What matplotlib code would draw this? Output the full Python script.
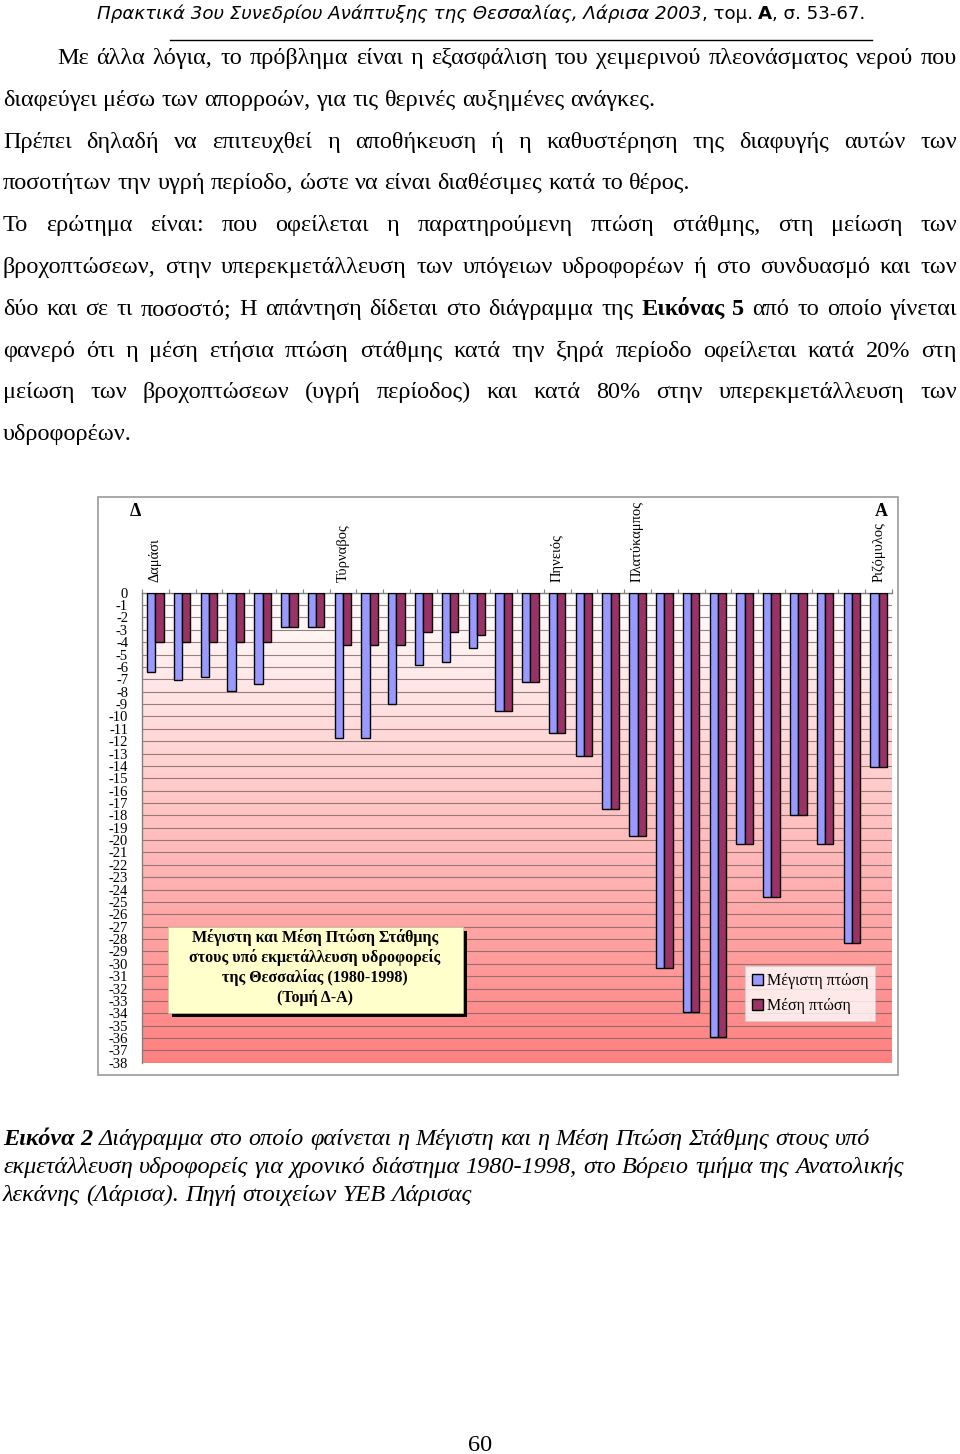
#!/usr/bin/env python3
"""
Page with the max / mean groundwater level drop chart (section D-A)
"""

import numpy as np
import matplotlib
matplotlib.use('Agg')
import matplotlib.pyplot as plt
from matplotlib.patches import Rectangle
from matplotlib.colors import LinearSegmentedColormap

W, H = 960, 1454

# --- chart data (m) ---
wells = list(range(28))
max_drop = [-6.4, -7.06, -6.84, -7.97, -7.4, -2.75, -2.75, -11.75, -11.75, -9.0,
            -5.82, -5.58, -4.45, -9.56, -7.22, -11.34, -13.2, -17.5, -19.7, -30.3,
            -33.9, -35.9, -20.3, -24.6, -18.0, -20.3, -28.3, -14.1]
mean_drop = [-4.0, -4.0, -4.0, -4.0, -4.0, -2.75, -2.75, -4.23, -4.23, -4.23,
             -3.18, -3.18, -3.45, -9.56, -7.22, -11.34, -13.2, -17.5, -19.7, -30.3,
             -33.9, -35.9, -20.3, -24.6, -18.0, -20.3, -28.3, -14.1]
place_idx = [0, 7, 15, 18, 27]
place_names = ['Δαμάσι', 'Τύρναβος', 'Πηνειός', 'Πλατύκαμπος', 'Ριζόμυλος']
y_ticks = list(range(0, -39, -1))
y_labels = ['0'] + ['-%d' % -v for v in y_ticks[1:]]
series_names = ['Μέγιστη πτώση', 'Μέση πτώση']
chart_title = ['Μέγιστη και Μέση Πτώση Στάθμης',
               'στους υπό εκμετάλλευση υδροφορείς',
               'της Θεσσαλίας (1980-1998)',
               '(Τομή Δ-Α)']

# --- page text ---
header_runs = [('Πρακτικά 3ου Συνεδρίου Ανάπτυξης της Θεσσαλίας, Λάρισα 2003', dict(style='italic')),
               (', τομ. ', {}),
               ('Α', dict(fontweight='bold')),
               (', σ. 53-67.', {})]
body_lines = [
    ('Με άλλα λόγια, το πρόβλημα είναι η εξασφάλιση του χειμερινού πλεονάσματος νερού που', True, 57),
    ('διαφεύγει μέσω των απορροών, για τις θερινές αυξημένες ανάγκες.', False, 3),
    ('Πρέπει δηλαδή να επιτευχθεί η αποθήκευση ή η καθυστέρηση της διαφυγής αυτών των', True, 3),
    ('ποσοτήτων την υγρή περίοδο, ώστε να είναι διαθέσιμες κατά το θέρος.', False, 3),
    ('Το ερώτημα είναι: που οφείλεται η παρατηρούμενη πτώση στάθμης, στη μείωση των', True, 3),
    ('βροχοπτώσεων, στην υπερεκμετάλλευση των υπόγειων υδροφορέων ή στο συνδυασμό και των', True, 3),
    ('δύο και σε τι ποσοστό; Η απάντηση δίδεται στο διάγραμμα της Εικόνας 5 από το οποίο γίνεται', True, 3),
    ('φανερό ότι η μέση ετήσια πτώση στάθμης κατά την ξηρά περίοδο οφείλεται κατά 20% στη', True, 3),
    ('μείωση των βροχοπτώσεων (υγρή περίοδος) και κατά 80% στην υπερεκμετάλλευση των', True, 3),
    ('υδροφορέων.', False, 3),
]
bold_words = ['Εικόνας', '5']
caption_lines = [
    'Εικόνα 2 Διάγραμμα στο οποίο φαίνεται η Μέγιστη και η Μέση Πτώση Στάθμης στους υπό',
    'εκμετάλλευση υδροφορείς για χρονικό διάστημα 1980-1998, στο Βόρειο τμήμα της Ανατολικής',
    'λεκάνης (Λάρισα). Πηγή στοιχείων ΥΕΒ Λάρισας',
]

SERIF = ['Liberation Serif', 'DejaVu Serif']
SANS = ['DejaVu Sans']

fig = plt.figure(figsize=(W / 100, H / 100), dpi=100)
fig.patch.set_facecolor('white')
renderer = fig.canvas.get_renderer()


def fx(x):
    return x / W


def fy(y):
    return 1 - y / H


def width_of(s, **kw):
    t = fig.text(0, 0, s, **kw)
    w = t.get_window_extent(renderer=renderer).width
    t.remove()
    return w


def space_of(**kw):
    return width_of('a a', **kw) - width_of('aa', **kw)


def put_words(words, x0, y, x1=None, **kw):
    """Place (word, style) tokens on one baseline, justified if x1 given"""
    widths = [width_of(w, **{**kw, **st}) for w, st in words]
    if x1 is None or len(words) < 2:
        gap = space_of(**kw)
    else:
        gap = (x1 - x0 - sum(widths)) / (len(words) - 1)
    x = x0
    for (w, st), wd in zip(words, widths):
        fig.text(fx(x), fy(y), w, ha='left', va='baseline', **{**kw, **st})
        x += wd + gap


# header
hsize = 12
hw = sum(width_of(t, family=SANS, size=hsize, **st) for t, st in header_runs)
hsize = hsize * 765 / hw
x = 97
for t, st in header_runs:
    fig.text(fx(x), fy(19), t, ha='left', va='baseline', family=SANS, size=hsize, **st)
    x += width_of(t, family=SANS, size=hsize, **st)
fig.add_artist(plt.Line2D([fx(170), fx(872)], [fy(40), fy(40)], color='black', lw=1))

# body paragraph
bsize = 16
bsize = bsize * 652 / width_of(body_lines[1][0], family=SERIF, size=bsize)
for n, (line, justify, x0) in enumerate(body_lines):
    words = [(w, dict(fontweight='bold') if w in bold_words and n == 6 else {})
             for w in line.split()]
    put_words(words, x0, 64 + n * 41.8, 957 if justify else None, family=SERIF, size=bsize)

# caption
csize = 16
csize = csize * 469 / width_of(caption_lines[2], family=SERIF, size=csize, style='italic')
for n, line in enumerate(caption_lines):
    words = [(w, dict(fontweight='bold') if n == 0 and i < 2 else {})
             for i, w in enumerate(line.split())]
    put_words(words, 3, 1145 + n * 28, None, family=SERIF, size=csize, style='italic')

fig.text(0.5, fy(1451), '60', ha='center', va='baseline', family=SERIF, size=bsize)

# --- chart ---
fig.add_artist(Rectangle((fx(98), fy(1075)), (898 - 98) / W, (1075 - 497) / H,
                         transform=fig.transFigure, facecolor='white',
                         edgecolor='#9a9a9a', lw=1.2, zorder=0))

ax = fig.add_axes([fx(142), fy(1062.8), 750 / W, (1062.8 - 592.7) / H])
ax.set_xlim(-0.5, len(wells) - 0.5)
ax.set_ylim(-38, 0)

bg = LinearSegmentedColormap.from_list('bg', ['#FFFFFF', '#FF8080'])
ax.imshow(np.linspace(0, 1, 256).reshape(-1, 1), extent=[-0.5, len(wells) - 0.5, -38, 0],
          aspect='auto', cmap=bg, origin='upper', zorder=0)

bw = 0.31
x = np.array(wells)
ax.bar(x - bw / 2, max_drop, bw, color='#9999FF', edgecolor='black', lw=1,
       label=series_names[0], zorder=3)
ax.bar(x + bw / 2, mean_drop, bw, color='#993366', edgecolor='black', lw=1,
       label=series_names[1], zorder=3)

ax.set_yticks(y_ticks)
ax.set_yticklabels(y_labels, family=SERIF, size=10.5)
ax.tick_params(axis='y', length=0, pad=10)
ax.yaxis.grid(True, color='#7c6464', lw=0.8, alpha=0.8)
ax.set_axisbelow(True)

ax.xaxis.tick_top()
ax.set_xticks(np.arange(-0.5, len(wells), 1))
ax.set_xticklabels([])
ax.tick_params(axis='x', length=3, direction='out', color='#808080', width=0.8)

for side in ['right', 'bottom']:
    ax.spines[side].set_visible(False)
for side in ['left', 'top']:
    ax.spines[side].set_color('#808080')
    ax.spines[side].set_linewidth(1)

for i, name in zip(place_idx, place_names):
    ax.text(i, 1.022, name, rotation=90, ha='center', va='bottom', family=SERIF,
            size=10.5, transform=ax.get_xaxis_transform(), clip_on=False)

fig.text(fx(135), fy(511), 'Δ', ha='center', va='center', family=SERIF, size=13,
         fontweight='bold')
fig.text(fx(881), fy(511), 'Α', ha='center', va='center', family=SERIF, size=13,
         fontweight='bold')

# title box with shadow
fig.add_artist(Rectangle((fx(172), fy(1017)), (463 - 168) / W, (1013 - 927) / H,
                         transform=fig.transFigure, facecolor='black', lw=0, zorder=4))
fig.add_artist(Rectangle((fx(168), fy(1013)), (463 - 168) / W, (1013 - 927) / H,
                         transform=fig.transFigure, facecolor='#FFFFCC',
                         edgecolor='#c8c8a0', lw=0.5, zorder=5))
for n, line in enumerate(chart_title):
    fig.text(fx(315), fy(938 + n * 20), line, ha='center', va='center', family=SERIF,
             size=11.5, fontweight='bold', zorder=6)

leg = fig.legend(loc='upper left', bbox_to_anchor=(fx(745), fy(966)), frameon=True,
                 fancybox=False, prop=dict(family=SERIF, size=11.5), handlelength=0.7,
                 handleheight=0.7, handletextpad=0.2, borderpad=0.45, labelspacing=0.55,
                 borderaxespad=0)
leg.get_frame().set_edgecolor('#d0d0d0')
leg.get_frame().set_linewidth(0.8)

fig.savefig('out.png', dpi=100)
